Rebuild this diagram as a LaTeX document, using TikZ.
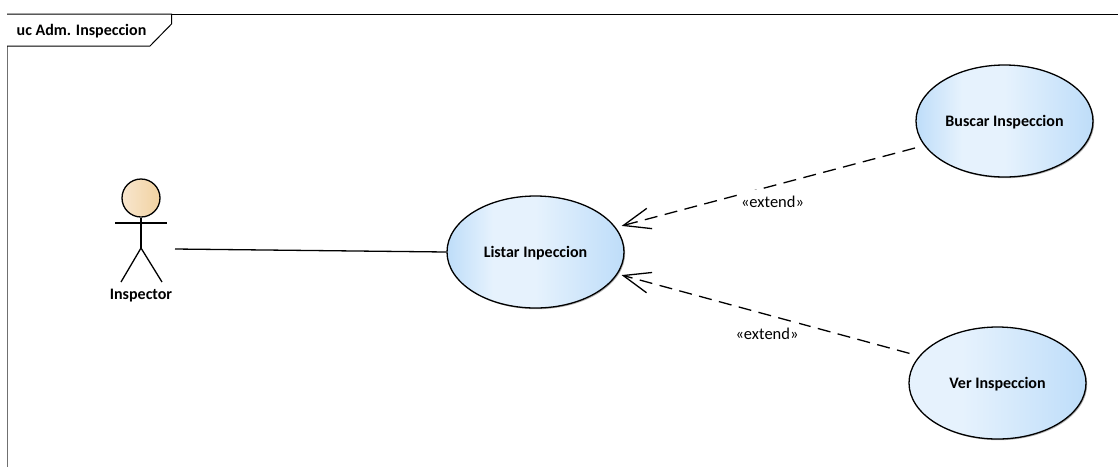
\documentclass[tikz,border=0pt]{standalone}
\usepackage{fontspec}
\setmainfont{Carlito}
\usetikzlibrary{
    arrows.meta,
    calc,
    shapes.geometric,
    shadows
}
\definecolor{ucdark}{HTML}{BEDDF9}
\definecolor{uclight}{HTML}{E6F2FD}
\definecolor{headlight}{HTML}{F8E6CE}
\definecolor{headdark}{HTML}{F1D2A1}
\definecolor{framecol}{HTML}{707070}
\pgfdeclarehorizontalshading{ucshade}{100bp}{
    color(0bp)=(ucdark); color(25bp)=(ucdark); color(38bp)=(uclight);
    color(50bp)=(uclight); color(75bp)=(ucdark); color(100bp)=(ucdark)}
\pgfdeclarehorizontalshading{ucshadeb}{100bp}{
    color(0bp)=(uclight); color(40bp)=(uclight); color(75bp)=(ucdark);
    color(100bp)=(ucdark)}

\begin{document}
\begin{tikzpicture}[
    x=1pt, y=-1pt,
    font=\bfseries\fontsize{16}{18}\selectfont,
    usecase/.style={
        draw, ellipse, line width=1.3pt, inner sep=0pt,
        minimum width=177pt, minimum height=112pt,
        text height=12pt, text depth=1pt,
        shading=ucshade,
        drop shadow={shadow xshift=1.2pt, shadow yshift=-1.2pt, opacity=0.3, fill=black}
    },
    stick/.style={line width=1.3pt},
    extendarr/.style={
        line width=1.3pt, dash pattern=on 13pt off 7.5pt,
        -{Straight Barb[length=27pt, width=21pt, line width=1.3pt]}
    },
    extendlbl/.style={
        fill=white, inner sep=1pt, minimum height=24pt,
        font=\fontsize{16.5}{18}\selectfont
    },
]
\useasboundingbox (0,0) rectangle (1118,467);
\fill[white] (0,0) rectangle (1118,467);

% -- Frame --
\draw[framecol, line width=1.6pt] (7.5,14) -- (7.5,467);
\draw[line width=1pt] (7,14) -- (1118,14);
\draw[line width=1pt, fill=white] (7,14) -- (171.5,14) -- (171.5,24) -- (150,46) -- (7,46);
\node[anchor=west, inner sep=0pt] (frametitle) at (16.5,31) {uc Adm. Inspeccion};

% -- Actor --
\node[draw, circle, line width=1.3pt, inner sep=0pt, minimum size=38pt,
      left color=headlight, right color=headdark] (ahead) at (141,198) {};
\coordinate (ahip) at (141,248);
\coordinate (aleft) at (115,223);
\coordinate (aright) at (167,223);
\draw[stick] (ahead.south) -- (ahip);
\draw[stick] (aleft) -- (aright);
\draw[stick] (ahip) -- (121,282);
\draw[stick] (ahip) -- (162,282);
\node (inspector) at (141,296) {Inspector};
\coordinate (aend) at (175,249);

% -- Use cases --
\node[usecase] (listar) at (535.5,252) {Listar Inpeccion};
\node[usecase] (buscar) at (1004.5,121) {Buscar Inspeccion};
\node[usecase, shading=ucshadeb] (ver) at (997.5,383) {Ver Inspeccion};

% -- Connectors --
\draw[line width=1.3pt] (aend) -- (listar.west);
\draw[extendarr, shorten >=6pt, shorten <=9.5pt] (buscar.197.6) -- (listar.17.9);
\draw[extendarr, shorten >=4pt, shorten <=10pt] (ver.161.7) -- (listar.-15.9);

% -- Stereotypes --
\node[extendlbl] (ext1) at (772.5,201.5) {«extend»};
\node[extendlbl] (ext2) at (767,333.5) {«extend»};

\end{tikzpicture}
\end{document}
